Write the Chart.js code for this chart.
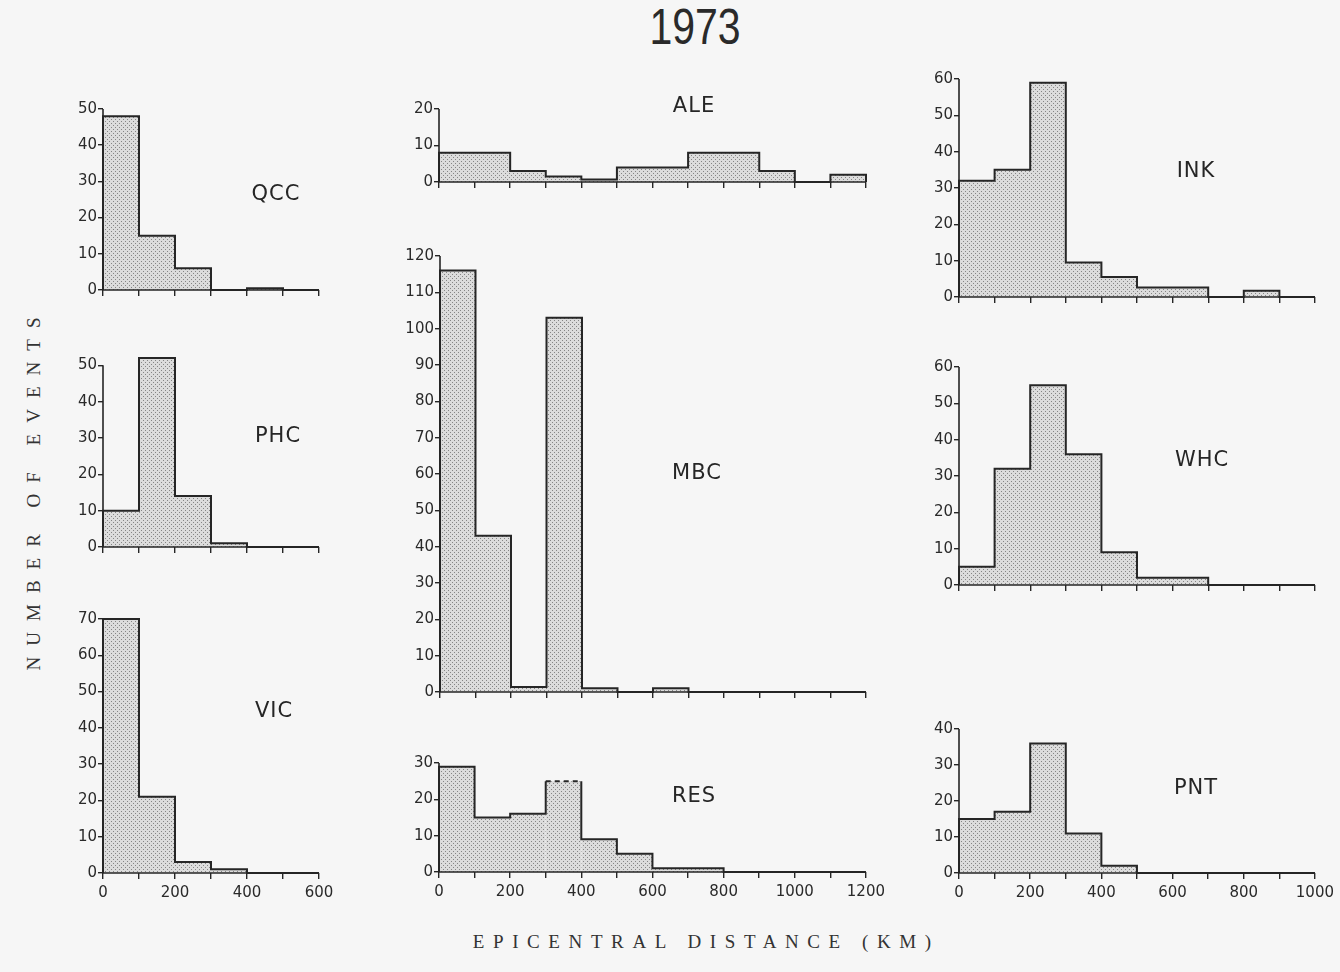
<!DOCTYPE html>
<html lang="en">
<head>
<meta charset="UTF-8">
<title>1973 - epicentral distance histograms</title>
<script src="https://cdn.jsdelivr.net/npm/chart.js@4.4.1/dist/chart.umd.min.js"></script>
<style>
  body { margin: 0; background: #f6f6f6; }
  #page { position: relative; width: 1340px; height: 972px; overflow: hidden; }
  #page canvas { position: absolute; }
  .lbl { position: absolute; transform: translate(-50%, -50%); font-family: "DejaVu Sans", sans-serif;
         font-size: 21px; color: #262626; white-space: nowrap; letter-spacing: 1px; }
  #title { position: absolute; left: 695px; top: 27px; transform: translate(-50%, -50%) scaleX(0.82);
           font-family: "Liberation Sans", Arial, sans-serif; font-size: 50px; color: #2a2a2a; }
  #ytitle { position: absolute; left: 34px; top: 494px; transform: translate(-50%, -50%) rotate(-90deg);
            font-family: "Liberation Serif", serif; font-size: 19px; color: #333; letter-spacing: 11px;
            padding-left: 11px; white-space: nowrap; }
  #xtitle { position: absolute; left: 702px; top: 942px; transform: translate(-50%, -50%);
            font-family: "Liberation Serif", serif; font-size: 19px; color: #333; letter-spacing: 8.6px;
            padding-left: 8.6px; white-space: nowrap; }
</style>
</head>
<body>
<div id="page">
  <div id="title">1973</div>
  <div id="ytitle">NUMBER OF EVENTS</div>
  <div id="xtitle">EPICENTRAL DISTANCE (KM)</div>
</div>

<script>
    // counts per 100 km bin
    var binWidth = 100
    var qccCounts = [48, 15, 6, 0, 0.5, 0]
    var phcCounts = [10, 52, 14, 1, 0, 0]
    var vicCounts = [70, 21, 3, 1, 0, 0]
    var aleCounts = [8, 8, 3, 1.5, 0.7, 4, 4, 8, 8, 3, 0, 2]
    var mbcCounts = [116, 43, 1.4, 103, 1, 0, 1, 0, 0, 0, 0, 0]
    var resCounts = [29, 15, 16, 25, 9, 5, 1, 1, 0, 0, 0, 0]
    var inkCounts = [32, 35, 59, 9.5, 5.5, 2.6, 2.6, 0, 1.7, 0]
    var whcCounts = [5, 32, 55, 36, 9, 2, 2, 0, 0, 0]
    var pntCounts = [15, 17, 36, 11, 2, 0, 0, 0, 0, 0]
    var resDashedBin = 3   // top of this bin is drawn dashed
</script>

<script>
    var INK = '#262626'
    var TXT = '#2a2a2a'
    var YW = 46, XH = 30, PADT = 12, PADR = 24, PADB = 4

    // page layout of each panel (plot box in px)
    var panels = [
        {name: 'QCC', counts: qccCounts, left: 103, right: 319, zero: 290, top: 109, yTop: 50, xLabels: false, at: [276, 193]},
        {name: 'PHC', counts: phcCounts, left: 103, right: 319, zero: 547, top: 365, yTop: 50, xLabels: false, at: [278, 435]},
        {name: 'VIC', counts: vicCounts, left: 103, right: 319, zero: 873, top: 619, yTop: 70, xLabels: true,  at: [274, 710]},
        {name: 'ALE', counts: aleCounts, left: 439, right: 866, zero: 182, top: 109, yTop: 20, xLabels: false, at: [694, 105]},
        {name: 'MBC', counts: mbcCounts, left: 440, right: 866, zero: 692, top: 256, yTop: 120, xLabels: false, at: [697, 472]},
        {name: 'RES', counts: resCounts, left: 439, right: 866, zero: 872, top: 763, yTop: 30, xLabels: true,  at: [694, 795], dash: resDashedBin},
        {name: 'INK', counts: inkCounts, left: 959, right: 1315, zero: 297, top: 79, yTop: 60, xLabels: false, at: [1196, 170]},
        {name: 'WHC', counts: whcCounts, left: 959, right: 1315, zero: 585, top: 367, yTop: 60, xLabels: false, at: [1202, 459]},
        {name: 'PNT', counts: pntCounts, left: 959, right: 1315, zero: 873, top: 729, yTop: 40, xLabels: true,  at: [1196, 787]}
    ]

    // stippled grey fill
    var pc = document.createElement('canvas')
    pc.width = 4; pc.height = 4
    var pctx = pc.getContext('2d')
    pctx.fillStyle = '#dcdcdc'; pctx.fillRect(0, 0, 4, 4)
    pctx.fillStyle = '#858585'; pctx.fillRect(0, 0, 1, 1); pctx.fillRect(2, 2, 1, 1)
    var stipple = pctx.createPattern(pc, 'repeat')

    // axes: y line only up to the last labelled tick
    var axisLine = {
        id: 'axisLine',
        afterDatasetsDraw: function(chart, args, opts) {
            var ctx = chart.ctx, x = chart.scales.x, y = chart.scales.y
            ctx.save()
            ctx.strokeStyle = INK
            ctx.lineWidth = 1.6
            ctx.beginPath()
            ctx.moveTo(x.left, y.getPixelForValue(opts.top))
            ctx.lineTo(x.left, y.bottom)
            ctx.lineTo(x.right, y.bottom)
            ctx.stroke()
            ctx.restore()
        }
    }

    function outline(counts) {
        var pts = [{x: 0, y: 0}]
        for (var i = 0; i < counts.length; i++) {
            pts.push({x: i * binWidth, y: counts[i]})
            pts.push({x: (i + 1) * binWidth, y: counts[i]})
        }
        pts.push({x: counts.length * binWidth, y: 0})
        return pts
    }

    var page = document.getElementById('page')

    panels.forEach(function(p) {
        var ppu = (p.zero - p.top) / p.yTop
        var yMax = Math.max(p.yTop, Math.max.apply(null, p.counts))
        var plotH = Math.round(yMax * ppu)
        var W = YW + (p.right - p.left) + PADR
        var H = PADT + plotH + XH + PADB
        var cv = document.createElement('canvas')
        cv.width = W; cv.height = H
        cv.style.width = W + 'px'; cv.style.height = H + 'px'
        cv.style.left = (p.left - YW) + 'px'
        cv.style.top = (p.zero - plotH - PADT) + 'px'
        page.appendChild(cv)

        var lbl = document.createElement('div')
        lbl.className = 'lbl'
        lbl.textContent = p.name
        lbl.style.left = p.at[0] + 'px'
        lbl.style.top = p.at[1] + 'px'
        page.appendChild(lbl)

        var dashIdx = p.dash === undefined ? -1 : 1 + 2 * p.dash
        var tickFont = {family: 'DejaVu Sans', size: 15}

        new Chart(cv, {
            type: 'line',
            data: {
                datasets: [{
                    data: outline(p.counts),
                    borderColor: INK,
                    borderWidth: 2,
                    pointRadius: 0,
                    tension: 0,
                    fill: 'origin',
                    backgroundColor: stipple,
                    clip: false,
                    segment: {
                        borderDash: function(ctx) { return ctx.p0DataIndex === dashIdx ? [5, 4] : undefined }
                    }
                }]
            },
            options: {
                responsive: false,
                animation: false,
                events: [],
                layout: {padding: {left: 0, right: PADR, top: PADT, bottom: PADB}, autoPadding: false},
                plugins: {legend: {display: false}, tooltip: {enabled: false}, axisLine: {top: p.yTop}},
                scales: {
                    x: {
                        type: 'linear', min: 0, max: p.counts.length * binWidth,
                        afterFit: function(s) { s.height = XH },
                        border: {display: false},
                        grid: {drawOnChartArea: false, tickLength: 6, color: INK, lineWidth: 1.4},
                        ticks: {
                            stepSize: 100, autoSkip: false, maxRotation: 0, padding: 5,
                            color: TXT, font: tickFont,
                            callback: function(v) { return p.xLabels && v % 200 === 0 ? String(v) : '' }
                        }
                    },
                    y: {
                        min: 0, max: yMax,
                        afterFit: function(s) { s.width = YW },
                        border: {display: false},
                        grid: {drawOnChartArea: false, tickLength: 5, color: INK, lineWidth: 1.4},
                        ticks: {stepSize: 10, includeBounds: false, padding: 1, color: TXT, font: tickFont}
                    }
                }
            },
            plugins: [axisLine]
        })
    })
</script>
</body>
</html>
